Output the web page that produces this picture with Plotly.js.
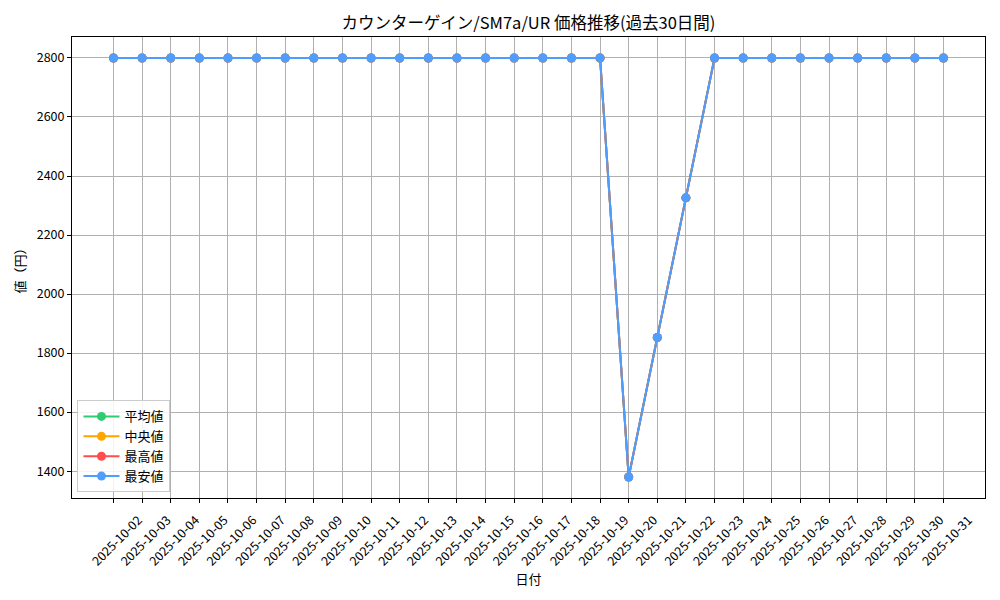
<!DOCTYPE html>
<html>
<head>
<meta charset="utf-8">
<script src="https://cdn.plot.ly/plotly-3.0.1.min.js"></script>
<style>html,body{margin:0;padding:0;background:#fff;}#chart{width:1000px;height:600px;}</style>
</head>
<body>
<div id="chart"></div>
<script>
const dates = ["2025-10-02","2025-10-03","2025-10-04","2025-10-05","2025-10-06","2025-10-07","2025-10-08","2025-10-09","2025-10-10","2025-10-11","2025-10-12","2025-10-13","2025-10-14","2025-10-15","2025-10-16","2025-10-17","2025-10-18","2025-10-19","2025-10-20","2025-10-21","2025-10-22","2025-10-23","2025-10-24","2025-10-25","2025-10-26","2025-10-27","2025-10-28","2025-10-29","2025-10-30","2025-10-31"];
const avgValues = [2800,2800,2800,2800,2800,2800,2800,2800,2800,2800,2800,2800,2800,2800,2800,2800,2800,2800,1380,1853,2326,2800,2800,2800,2800,2800,2800,2800,2800,2800];
const medianValues = [2800,2800,2800,2800,2800,2800,2800,2800,2800,2800,2800,2800,2800,2800,2800,2800,2800,2800,1380,1853,2326,2800,2800,2800,2800,2800,2800,2800,2800,2800];
const maxValues = [2800,2800,2800,2800,2800,2800,2800,2800,2800,2800,2800,2800,2800,2800,2800,2800,2800,2800,1380,1853,2326,2800,2800,2800,2800,2800,2800,2800,2800,2800];
const minValues = [2800,2800,2800,2800,2800,2800,2800,2800,2800,2800,2800,2800,2800,2800,2800,2800,2800,2800,1380,1853,2326,2800,2800,2800,2800,2800,2800,2800,2800,2800];
const seriesNames = ["平均値","中央値","最高値","最安値"];
const seriesColors = ["#2ecc71","#ffa500","#ff4d4d","#4d9eff"];
const yTicks = [1400,1600,1800,2000,2200,2400,2600,2800];

const FONT = '"Noto Sans CJK JP", "DejaVu Sans", sans-serif';
const allSeries = [avgValues, medianValues, maxValues, minValues];
const traces = allSeries.map((vals, i) => ({
  x: dates,
  y: vals,
  type: 'scatter',
  mode: 'lines+markers',
  name: seriesNames[i],
  line: {color: seriesColors[i], width: 2},
  marker: {color: seriesColors[i], size: 9}
}));

const layout = {
  width: 1000,
  height: 600,
  margin: {l: 72, r: 15, t: 37, b: 102},
  paper_bgcolor: '#ffffff',
  plot_bgcolor: '#ffffff',
  font: {family: FONT, size: 12, color: '#000'},
  title: {text: 'カウンターゲイン/SM7a/UR 価格推移(過去30日間)', font: {family: FONT, size: 16.5, color: '#000'}, x: 0.5, xref: 'paper', xanchor: 'center', y: 0.962, yanchor: 'middle'},
  xaxis: {
    type: 'category',
    range: [-1.45, dates.length - 1 + 1.45],
    tickangle: -45,
    ticks: 'outside', ticklen: 4, tickcolor: '#000', tickwidth: 1,
    ticklabelshift: 25, ticklabelstandoff: 5,
    showline: true, linecolor: '#000', linewidth: 1, mirror: true,
    showgrid: true, gridcolor: '#b0b0b0', gridwidth: 1,
    zeroline: false,
    tickfont: {family: FONT, size: 12.5, color: '#000'},
    title: {text: '日付', font: {family: FONT, size: 13, color: '#000'}, standoff: 3}
  },
  yaxis: {
    range: [1309, 2871],
    tickvals: yTicks,
    ticktext: yTicks.map(String),
    ticks: 'outside', ticklen: 4, tickcolor: '#000', tickwidth: 1,
    showline: true, linecolor: '#000', linewidth: 1, mirror: true,
    showgrid: true, gridcolor: '#b0b0b0', gridwidth: 1,
    zeroline: false,
    tickfont: {family: FONT, size: 12.5, color: '#000'},
    title: {text: '値（円）', font: {family: FONT, size: 13, color: '#000'}, standoff: 8}
  },
  showlegend: true,
  legend: {
    x: 0.006, y: 0.012, xanchor: 'left', yanchor: 'bottom',
    bgcolor: 'rgba(255,255,255,0.85)', bordercolor: '#cccccc', borderwidth: 1,
    font: {family: FONT, size: 13, color: '#000'},
    itemwidth: 36, tracegroupgap: 0
  }
};

Plotly.newPlot('chart', traces, layout, {displayModeBar: false, staticPlot: true});
</script>
</body>
</html>
